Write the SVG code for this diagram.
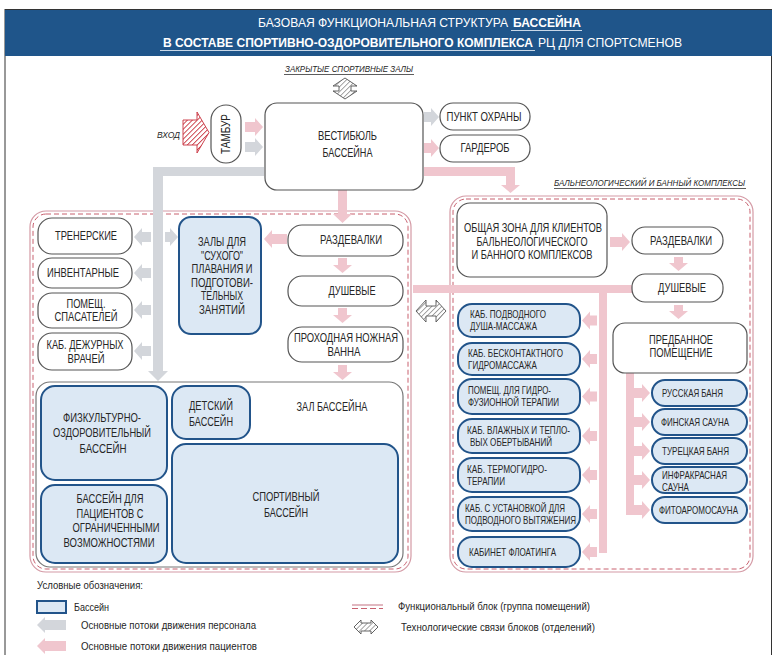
<svg xmlns="http://www.w3.org/2000/svg" width="772" height="655" viewBox="0 0 772 655">
<defs>
<style>
text{font-family:"Liberation Sans",Arial,sans-serif;fill:#262626}
.c{text-anchor:middle;font-size:12px}
.sm{font-size:10.5px}
.lg{font-size:11px}
.it{font-style:italic;font-size:9px}
.box{fill:#fff;stroke:#555;stroke-width:1.2}
.pool{fill:#dce8f4;stroke:#22548a;stroke-width:2}
.hall{fill:#fff;stroke:#777;stroke-width:1.2}
.blko{fill:none;stroke:#d49aa5;stroke-width:1.2}
.blki{fill:none;stroke:#c8606f;stroke-width:1;stroke-dasharray:5 3}
.pk{fill:#f0c6ce}
.gy{fill:#d3d6db}
.hg{fill:url(#hatchG);stroke:#555;stroke-width:0.9}
.ttl{fill:#fff;font-size:12.5px}
</style>
<pattern id="hatchR" width="3.5" height="3.5" patternUnits="userSpaceOnUse" patternTransform="rotate(45)"><rect width="3.5" height="3.5" fill="#fff"/><line x1="0" y1="0" x2="0" y2="3.5" stroke="#c8303c" stroke-width="1.7"/></pattern>
<pattern id="hatchG" width="3.5" height="3.5" patternUnits="userSpaceOnUse" patternTransform="rotate(45)"><rect width="3.5" height="3.5" fill="#fff"/><line x1="0" y1="0" x2="0" y2="3.5" stroke="#888" stroke-width="1.5"/></pattern>
</defs>
<rect width="772" height="655" fill="#fff"/>
<g id="frame" fill="none" stroke="#333" stroke-width="1">
<line x1="5" y1="9" x2="5" y2="655"/>
<line x1="771.5" y1="9" x2="771.5" y2="655"/>
<line x1="5" y1="9.5" x2="772" y2="9.5"/>
</g>
<g id="header">
<rect x="5" y="10" width="767" height="46" fill="#1f558a"/>
<text class="ttl" x="258" y="27" textLength="250" lengthAdjust="spacingAndGlyphs">БАЗОВАЯ ФУНКЦИОНАЛЬНАЯ СТРУКТУРА</text>
<text class="ttl" x="513" y="27" font-weight="bold" textLength="68" lengthAdjust="spacingAndGlyphs">БАССЕЙНА</text>
<line x1="511" y1="30.5" x2="582" y2="30.5" stroke="#c9d8e8" stroke-width="1"/>
<text class="ttl" x="163" y="47" font-weight="bold" textLength="370" lengthAdjust="spacingAndGlyphs">В СОСТАВЕ СПОРТИВНО-ОЗДОРОВИТЕЛЬНОГО КОМПЛЕКСА</text>
<text class="ttl" x="538" y="47" textLength="144" lengthAdjust="spacingAndGlyphs">РЦ ДЛЯ СПОРТСМЕНОВ</text>
<line x1="160" y1="50.5" x2="535" y2="50.5" stroke="#c9d8e8" stroke-width="1"/>
</g>
<g id="left-block">
<rect class="blko" x="30" y="211" width="381" height="361" rx="16"/>
<rect class="blki" x="33" y="214" width="375" height="355" rx="13"/>
</g>
<g id="right-block">
<rect class="blko" x="450" y="196" width="303" height="376" rx="16"/>
<rect class="blki" x="453" y="199" width="297" height="370" rx="13"/>
<text class="it" x="554" y="186" textLength="191" lengthAdjust="spacingAndGlyphs" style="font-size:8.3px">БАЛЬНЕОЛОГИЧЕСКИЙ И БАННЫЙ КОМПЛЕКСЫ</text>
<line x1="554" y1="188.5" x2="746" y2="188.5" stroke="#333" stroke-width="0.8"/>
</g>
<g id="sport-halls">
<text class="it" x="285" y="72" textLength="128" lengthAdjust="spacingAndGlyphs">ЗАКРЫТЫЕ СПОРТИВНЫЕ ЗАЛЫ</text>
<line x1="284" y1="74.5" x2="414" y2="74.5" stroke="#333" stroke-width="0.8"/>
</g>
<g id="connectors">
<polygon class="hg" points="345,78 357,86 351,86 351,91 357,91 345,99 333,91 339,91 339,86 333,86"/>
<polygon points="183,120 197,120 197,112 209,132.5 197,153 197,145 183,145" fill="url(#hatchR)" stroke="#c8303c" stroke-width="0.9"/>
<polygon class="pk" points="245,122 255,122 255,118 263,127 255,136 255,132 245,132"/>
<polygon class="gy" points="245,142 255,142 255,138 263,147 255,156 255,152 245,152"/>
<polygon class="gy" points="424,112 431,112 431,108 439,117 431,126 431,122 424,122"/>
<polygon class="pk" points="424,143 431,143 431,139 439,148 431,157 431,153 424,153"/>
<polygon class="pk" points="424,167 515,167 515,185 520,185 510.5,193 501,185 506,185 506,176 424,176"/>
<polygon class="gy" points="264,167 153,167 153,371 148,371 158,381 168,371 163,371 163,176 264,176"/>
<polygon class="pk" points="338,190 347,190 347,214 352,214 342.5,223 333,214 338,214"/>
<polygon class="gy" points="151,232 142,232 142,228 134,237 142,246 142,242 151,242"/>
<polygon class="gy" points="151,268 142,268 142,264 134,273 142,282 142,278 151,278"/>
<polygon class="gy" points="151,305 142,305 142,301 134,310 142,319 142,315 151,315"/>
<polygon class="gy" points="151,346 142,346 142,342 134,351 142,360 142,356 151,356"/>
<polygon class="gy" points="165,232 170,232 170,228 178,237 170,246 170,242 165,242"/>
<polygon class="pk" points="287,234 272,234 272,230 264,239 272,248 272,244 287,244"/>
<polygon class="pk" points="338,258 347,258 347,265 352,265 342.5,273 333,265 338,265"/>
<polygon class="pk" points="338,308 347,308 347,315 352,315 342.5,323 333,315 338,315"/>
<polygon class="pk" points="338,365 347,365 347,372 352,372 342.5,380 333,372 338,372"/>
<polygon class="hg" points="416,311 426,300 426,306 436,306 436,300 446,311 436,322 436,316 426,316 426,322"/>
<polygon class="pk" points="413,285 632,285 632,293 607,293 607,553 599,553 599,293 413,293"/>
<polygon class="pk" points="610,237 622,237 622,233 630,242 622,251 622,247 610,247"/>
<polygon class="pk" points="674,257 683,257 683,263 688,263 678.5,271 669,263 674,263"/>
<polygon class="pk" points="674,305 683,305 683,311 688,311 678.5,319 669,311 674,311"/>
<polygon class="pk" points="597,315.5 590,315.5 590,311.5 582,320.5 590,329.5 590,325.5 597,325.5"/>
<polygon class="pk" points="597,354 590,354 590,350 582,359 590,368 590,364 597,364"/>
<polygon class="pk" points="597,391.5 590,391.5 590,387.5 582,396.5 590,405.5 590,401.5 597,401.5"/>
<polygon class="pk" points="597,431 590,431 590,427 582,436 590,445 590,441 597,441"/>
<polygon class="pk" points="597,470 590,470 590,466 582,475 590,484 590,480 597,480"/>
<polygon class="pk" points="597,509 590,509 590,505 582,514 590,523 590,519 597,519"/>
<polygon class="pk" points="597,547 590,547 590,543 582,552 590,561 590,557 597,557"/>
<rect class="pk" x="626" y="373" width="8" height="142"/>
<polygon class="pk" points="634,388 642,388 642,384 650,393 642,402 642,398 634,398"/>
<polygon class="pk" points="634,417 642,417 642,413 650,422 642,431 642,427 634,427"/>
<polygon class="pk" points="634,446 642,446 642,442 650,451 642,460 642,456 634,456"/>
<polygon class="pk" points="634,475 642,475 642,471 650,480 642,489 642,485 634,485"/>
<polygon class="pk" points="634,505 642,505 642,501 650,510 642,519 642,515 634,515"/>
</g>
<g id="entrance"><text class="it" x="157" y="138" textLength="23" lengthAdjust="spacingAndGlyphs">ВХОД</text></g>
<g id="tambur"><rect class="box" x="211" y="105" width="30" height="58" rx="15"/><text class="c" transform="translate(230,134) rotate(-90)" textLength="40" lengthAdjust="spacingAndGlyphs">ТАМБУР</text></g>
<g id="vestibule"><rect class="box" x="265" y="103" width="158" height="87" rx="12"/><text class="c" x="347.5" y="140" textLength="59" lengthAdjust="spacingAndGlyphs">ВЕСТИБЮЛЬ</text><text class="c" x="347.5" y="157" textLength="50" lengthAdjust="spacingAndGlyphs">БАССЕЙНА</text></g>
<g id="security"><rect class="box" x="440" y="103" width="90" height="27" rx="13"/><text class="c" x="484" y="121" textLength="75" lengthAdjust="spacingAndGlyphs">ПУНКТ ОХРАНЫ</text></g>
<g id="cloakroom"><rect class="box" x="440" y="135" width="90" height="27" rx="13"/><text class="c" x="485" y="152" textLength="49" lengthAdjust="spacingAndGlyphs">ГАРДЕРОБ</text></g>
<g id="coaches"><rect class="box" x="38" y="218" width="94" height="36" rx="14"/><text class="c" x="86" y="240" textLength="62" lengthAdjust="spacingAndGlyphs">ТРЕНЕРСКИЕ</text></g>
<g id="inventory"><rect class="box" x="38" y="258" width="94" height="30" rx="14"/><text class="c" x="83" y="277" textLength="72" lengthAdjust="spacingAndGlyphs">ИНВЕНТАРНЫЕ</text></g>
<g id="rescuers"><rect class="box" x="38" y="293" width="94" height="35" rx="14"/><text class="c" x="86" y="308" textLength="39" lengthAdjust="spacingAndGlyphs">ПОМЕЩ.</text><text class="c" x="86" y="321" textLength="63" lengthAdjust="spacingAndGlyphs">СПАСАТЕЛЕЙ</text></g>
<g id="doctors"><rect class="box" x="38" y="333" width="94" height="37" rx="14"/><text class="c" x="85" y="349" textLength="77" lengthAdjust="spacingAndGlyphs">КАБ. ДЕЖУРНЫХ</text><text class="c" x="86" y="363" textLength="37" lengthAdjust="spacingAndGlyphs">ВРАЧЕЙ</text></g>
<g id="dry-swim"><rect class="pool" x="179" y="217" width="82" height="117" rx="12"/>
<text class="c" x="222" y="246" textLength="48" lengthAdjust="spacingAndGlyphs">ЗАЛЫ ДЛЯ</text><text class="c" x="222" y="259.5" textLength="42" lengthAdjust="spacingAndGlyphs">"СУХОГО"</text><text class="c" x="222" y="273" textLength="61" lengthAdjust="spacingAndGlyphs">ПЛАВАНИЯ И</text><text class="c" x="222" y="286.5" textLength="62" lengthAdjust="spacingAndGlyphs">ПОДГОТОВИ-</text><text class="c" x="222" y="300" textLength="42" lengthAdjust="spacingAndGlyphs">ТЕЛЬНЫХ</text><text class="c" x="222" y="313.5" textLength="46" lengthAdjust="spacingAndGlyphs">ЗАНЯТИЙ</text></g>
<g id="lockers-pool"><rect class="box" x="288" y="225" width="115" height="31" rx="14"/><text class="c" x="351" y="244" textLength="62" lengthAdjust="spacingAndGlyphs">РАЗДЕВАЛКИ</text></g>
<g id="showers-pool"><rect class="box" x="288" y="276" width="115" height="30" rx="14"/><text class="c" x="352" y="295" textLength="47" lengthAdjust="spacingAndGlyphs">ДУШЕВЫЕ</text></g>
<g id="foot-bath"><rect class="box" x="288" y="327" width="115" height="35" rx="14"/><text class="c" x="346" y="342" textLength="104" lengthAdjust="spacingAndGlyphs">ПРОХОДНАЯ НОЖНАЯ</text><text class="c" x="344" y="356" textLength="33" lengthAdjust="spacingAndGlyphs">ВАННА</text></g>
<g id="pool-hall"><rect class="hall" x="36" y="382" width="367" height="185" rx="14"/><text class="c" x="332" y="411" textLength="71" lengthAdjust="spacingAndGlyphs">ЗАЛ БАССЕЙНА</text></g>
<g id="fitness-pool"><rect class="pool" x="41" y="386" width="126" height="94" rx="14"/><text class="c" x="102" y="422" textLength="78" lengthAdjust="spacingAndGlyphs">ФИЗКУЛЬТУРНО-</text><text class="c" x="102" y="437" textLength="98" lengthAdjust="spacingAndGlyphs">ОЗДОРОВИТЕЛЬНЫЙ</text><text class="c" x="103" y="453" textLength="47" lengthAdjust="spacingAndGlyphs">БАССЕЙН</text></g>
<g id="special-pool"><rect class="pool" x="41" y="485" width="126" height="78" rx="14"/><text class="c" x="110" y="503" textLength="67" lengthAdjust="spacingAndGlyphs">БАССЕЙН ДЛЯ</text><text class="c" x="110" y="517.5" textLength="67" lengthAdjust="spacingAndGlyphs">ПАЦИЕНТОВ С</text><text class="c" x="116" y="532" textLength="87" lengthAdjust="spacingAndGlyphs">ОГРАНИЧЕННЫМИ</text><text class="c" x="109" y="546.5" textLength="91" lengthAdjust="spacingAndGlyphs">ВОЗМОЖНОСТЯМИ</text></g>
<g id="kids-pool"><rect class="pool" x="172" y="386" width="78" height="53" rx="14"/><text class="c" x="211" y="410" textLength="44" lengthAdjust="spacingAndGlyphs">ДЕТСКИЙ</text><text class="c" x="211" y="426" textLength="44" lengthAdjust="spacingAndGlyphs">БАССЕЙН</text></g>
<g id="sport-pool"><rect class="pool" x="172" y="444" width="226" height="119" rx="14"/><text class="c" x="286" y="501" textLength="67" lengthAdjust="spacingAndGlyphs">СПОРТИВНЫЙ</text><text class="c" x="286" y="517" textLength="44" lengthAdjust="spacingAndGlyphs">БАССЕЙН</text></g>
<g id="common-zone"><rect class="box" x="457" y="203" width="150" height="74" rx="13"/><text class="c" x="533" y="232" textLength="138" lengthAdjust="spacingAndGlyphs">ОБЩАЯ ЗОНА ДЛЯ КЛИЕНТОВ</text><text class="c" x="532" y="246" textLength="111" lengthAdjust="spacingAndGlyphs">БАЛЬНЕОЛОГИЧЕСКОГО</text><text class="c" x="532" y="259" textLength="121" lengthAdjust="spacingAndGlyphs">И БАННОГО КОМПЛЕКСОВ</text></g>
<g id="lockers-spa"><rect class="box" x="632" y="227" width="91" height="27" rx="13"/><text class="c" x="681" y="245" textLength="62" lengthAdjust="spacingAndGlyphs">РАЗДЕВАЛКИ</text></g>
<g id="showers-spa"><rect class="box" x="632" y="274" width="91" height="28" rx="13"/><text class="c" x="682" y="292" textLength="48" lengthAdjust="spacingAndGlyphs">ДУШЕВЫЕ</text></g>
<g id="pre-bath"><rect class="box" x="613" y="323" width="134" height="50" rx="12"/><text class="c" x="681" y="344" textLength="64" lengthAdjust="spacingAndGlyphs">ПРЕДБАННОЕ</text><text class="c" x="681" y="357" textLength="63" lengthAdjust="spacingAndGlyphs">ПОМЕЩЕНИЕ</text></g>
<g id="shower-massage"><rect class="pool" x="458" y="304" width="122" height="33" rx="14"/><text class="sm" x="470" y="318" textLength="76" lengthAdjust="spacingAndGlyphs">КАБ. ПОДВОДНОГО</text><text class="sm" x="470" y="330" textLength="67" lengthAdjust="spacingAndGlyphs">ДУША-МАССАЖА</text></g>
<g id="hydromassage"><rect class="pool" x="458" y="343" width="122" height="32" rx="14"/><text class="sm" x="468" y="356.5" textLength="95" lengthAdjust="spacingAndGlyphs">КАБ. БЕСКОНТАКТНОГО</text><text class="sm" x="468" y="368.5" textLength="69" lengthAdjust="spacingAndGlyphs">ГИДРОМАССАЖА</text></g>
<g id="hydrofusion"><rect class="pool" x="458" y="379" width="122" height="35" rx="14"/><text class="sm" x="468" y="394" textLength="83" lengthAdjust="spacingAndGlyphs">ПОМЕЩ. ДЛЯ ГИДРО-</text><text class="sm" x="468" y="406" textLength="91" lengthAdjust="spacingAndGlyphs">ФУЗИОННОЙ ТЕРАПИИ</text></g>
<g id="wraps"><rect class="pool" x="458" y="419" width="122" height="34" rx="14"/><text class="sm" x="467" y="433.5" textLength="103" lengthAdjust="spacingAndGlyphs">КАБ. ВЛАЖНЫХ И ТЕПЛО-</text><text class="sm" x="470" y="445.5" textLength="82" lengthAdjust="spacingAndGlyphs">ВЫХ ОБЕРТЫВАНИЙ</text></g>
<g id="thermo"><rect class="pool" x="458" y="458" width="122" height="34" rx="14"/><text class="sm" x="467" y="472.5" textLength="80" lengthAdjust="spacingAndGlyphs">КАБ.  ТЕРМОГИДРО-</text><text class="sm" x="467" y="484.5" textLength="38" lengthAdjust="spacingAndGlyphs">ТЕРАПИИ</text></g>
<g id="traction"><rect class="pool" x="458" y="497" width="122" height="34" rx="14"/><text class="sm" x="465" y="511.5" textLength="100" lengthAdjust="spacingAndGlyphs">КАБ. С УСТАНОВКОЙ ДЛЯ</text><text class="sm" x="465" y="523.5" textLength="111" lengthAdjust="spacingAndGlyphs">ПОДВОДНОГО ВЫТЯЖЕНИЯ</text></g>
<g id="floating"><rect class="pool" x="458" y="537" width="122" height="30" rx="14"/><text class="sm" x="469" y="555.5" textLength="87" lengthAdjust="spacingAndGlyphs">КАБИНЕТ ФЛОАТИНГА</text></g>
<g id="russian-bath"><rect class="pool" x="652" y="380" width="95" height="26" rx="13"/><text class="sm" x="662" y="397" textLength="61" lengthAdjust="spacingAndGlyphs">РУССКАЯ БАНЯ</text></g>
<g id="finnish-sauna"><rect class="pool" x="652" y="409" width="95" height="26" rx="13"/><text class="sm" x="661" y="426" textLength="68" lengthAdjust="spacingAndGlyphs">ФИНСКАЯ САУНА</text></g>
<g id="turkish-bath"><rect class="pool" x="652" y="438" width="95" height="26" rx="13"/><text class="sm" x="662" y="455" textLength="67" lengthAdjust="spacingAndGlyphs">ТУРЕЦКАЯ БАНЯ</text></g>
<g id="infrared-sauna"><rect class="pool" x="652" y="467" width="95" height="26" rx="13"/><text class="sm" x="662" y="478.5" textLength="65" lengthAdjust="spacingAndGlyphs">ИНФРАКРАСНАЯ</text><text class="sm" x="662" y="490.5" textLength="27" lengthAdjust="spacingAndGlyphs">САУНА</text></g>
<g id="phyto-sauna"><rect class="pool" x="652" y="497" width="95" height="26" rx="13"/><text class="sm" x="659" y="513.5" textLength="79" lengthAdjust="spacingAndGlyphs">ФИТОАРОМОСАУНА</text></g>
<g id="legend">
<text class="lg" x="37" y="589" textLength="106" lengthAdjust="spacingAndGlyphs">Условные обозначения:</text>
<rect class="pool" x="37" y="601" width="29" height="12" stroke-width="1.6"/>
<text class="lg" x="74" y="611" textLength="35" lengthAdjust="spacingAndGlyphs">Бассейн</text>
<polygon class="gy" points="66,620 45,620 45,617 37,625 45,633 45,630 66,630"/>
<text class="lg" x="81" y="629" textLength="175" lengthAdjust="spacingAndGlyphs">Основные потоки движения персонала</text>
<polygon class="pk" points="66,641 45,641 45,638 37,646 45,654 45,651 66,651"/>
<text class="lg" x="81" y="650" textLength="176" lengthAdjust="spacingAndGlyphs">Основные потоки движения пациентов</text>
<line x1="352" y1="605" x2="383" y2="605" stroke="#d49aa5" stroke-width="1.4"/>
<line x1="352" y1="608.5" x2="383" y2="608.5" stroke="#c8606f" stroke-width="1.2" stroke-dasharray="6 3"/>
<text class="lg" x="398" y="610" textLength="192" lengthAdjust="spacingAndGlyphs">Функциональный блок (группа помещений)</text>
<polygon class="hg" points="354,627 361,620 361,623 371,623 371,620 378,627 371,634 371,631 361,631 361,634"/>
<text class="lg" x="401" y="631" textLength="194" lengthAdjust="spacingAndGlyphs">Технологические связи блоков (отделений)</text>
</g>
</svg>
